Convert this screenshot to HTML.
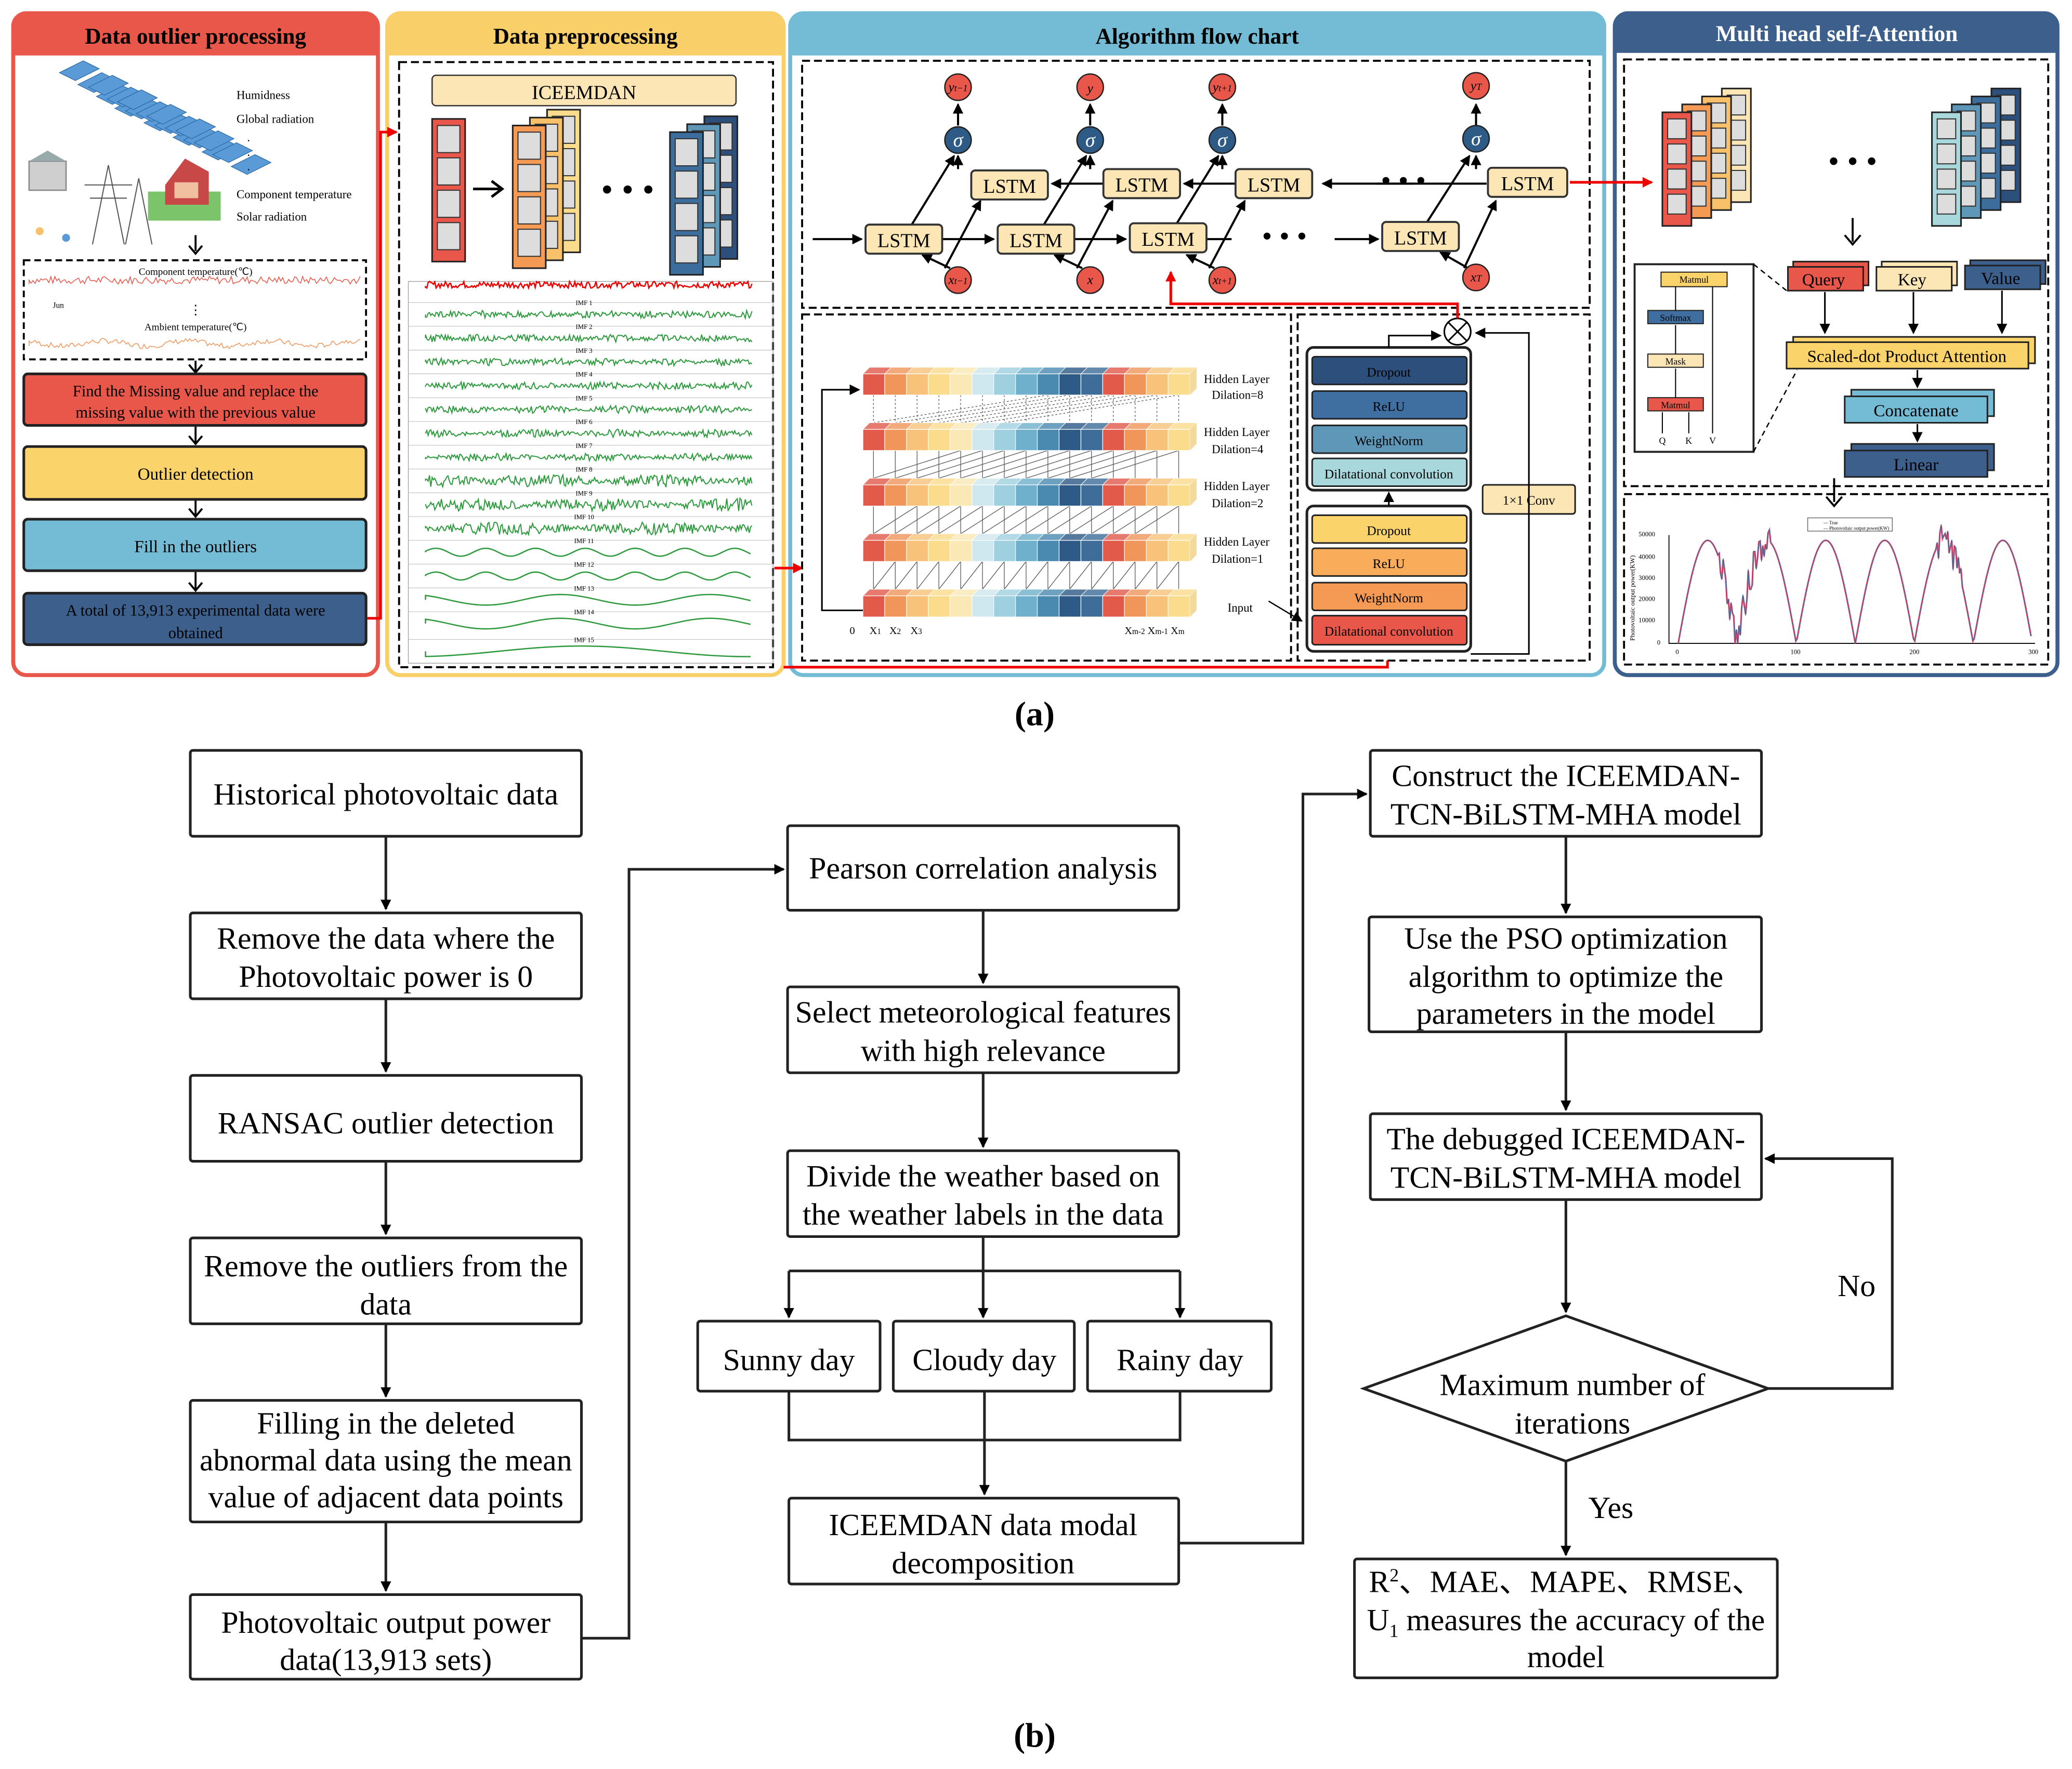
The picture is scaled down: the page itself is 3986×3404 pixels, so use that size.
<!DOCTYPE html>
<html><head><meta charset="utf-8"><style>
html,body{margin:0;padding:0;background:#fff}
svg{display:block}
text{font-family:"Liberation Serif",serif}
</style></head><body>
<svg id="s" xmlns="http://www.w3.org/2000/svg" width="3986" height="3404" viewBox="0 0 1568 1339" preserveAspectRatio="none">
<defs>
<marker id="ab" markerWidth="8" markerHeight="8" refX="7" refY="4" orient="auto" markerUnits="userSpaceOnUse"><path d="M0,0 L8,4 L0,8 z" fill="#000"/></marker>
<marker id="ar" markerWidth="8" markerHeight="8" refX="7" refY="4" orient="auto" markerUnits="userSpaceOnUse"><path d="M0,0 L8,4 L0,8 z" fill="#e00"/></marker>
</defs>
<rect width="1568" height="1339" fill="#fff"/>

<!-- ===== Panels ===== -->
<rect x="10" y="10" width="276" height="501" rx="10" fill="#fff" stroke="#e8574a" stroke-width="3"/>
<path d="M10,42 V20 a10,10 0 0 1 10,-10 H276 a10,10 0 0 1 10,10 V42 z" fill="#e8574a"/>
<text x="148" y="33" font-size="17" font-weight="bold" text-anchor="middle">Data outlier processing</text>

<rect x="293" y="10" width="300" height="501" rx="10" fill="#fff" stroke="#f9cf6a" stroke-width="3"/>
<path d="M293,42 V20 a10,10 0 0 1 10,-10 H583 a10,10 0 0 1 10,10 V42 z" fill="#f9cf6a"/>
<text x="443" y="33" font-size="17" font-weight="bold" text-anchor="middle">Data preprocessing</text>

<rect x="598" y="10" width="616" height="501" rx="10" fill="#fff" stroke="#74bcd6" stroke-width="3"/>
<path d="M598,42 V20 a10,10 0 0 1 10,-10 H1204 a10,10 0 0 1 10,10 V42 z" fill="#74bcd6"/>
<text x="906" y="33" font-size="17" font-weight="bold" text-anchor="middle">Algorithm flow chart</text>

<rect x="1222" y="10" width="335" height="501" rx="10" fill="#fff" stroke="#3c5f8c" stroke-width="3"/>
<path d="M1222,40 V20 a10,10 0 0 1 10,-10 H1547 a10,10 0 0 1 10,10 V40 z" fill="#3c5f8c"/>
<text x="1390" y="31" font-size="17" font-weight="bold" text-anchor="middle" fill="#fff">Multi head self-Attention</text>

<!-- ===== Panel 1 ===== -->
<g id="farm"></g>
<g font-size="9">
<text x="179" y="75">Humidness</text>
<text x="179" y="93">Global radiation</text>
<text x="187" y="107">.</text><text x="187" y="118">.</text><text x="187" y="129">.</text>
<text x="179" y="150">Component temperature</text>
<text x="179" y="167">Solar radiation</text>
</g>
<path d="M148,178 v12" stroke="#000" stroke-width="1.5"/><path d="M143,186 l5,6 l5,-6" fill="none" stroke="#000" stroke-width="1.5"/>
<rect x="18" y="197" width="259" height="75" fill="none" stroke="#000" stroke-dasharray="5,3" stroke-width="1.5"/>
<text x="148" y="208" font-size="7.5" text-anchor="middle">Component temperature(℃)</text>
<text x="148" y="250" font-size="7.5" text-anchor="middle">Ambient temperature(℃)</text>
<text x="148" y="238" font-size="10" text-anchor="middle">⋮</text>
<text x="40" y="233" font-size="6">Jun</text>
<path id="ct" d="" stroke="#e8574a" fill="none" stroke-width="0.6"/>
<path id="at" d="" stroke="#f0965a" fill="none" stroke-width="0.6"/>
<path d="M148,273 v8 M143,276 l5,6 l5,-6" fill="none" stroke="#000" stroke-width="1.5"/>
<rect x="18" y="283" width="259" height="39" rx="3" fill="#e8574a" stroke="#222" stroke-width="2"/>
<text x="148" y="300" font-size="12" text-anchor="middle">Find the Missing value and replace the</text>
<text x="148" y="316" font-size="12" text-anchor="middle">missing value with the previous value</text>
<path d="M148,323 v12 M143,330 l5,6 l5,-6" fill="none" stroke="#000" stroke-width="1.5"/>
<rect x="18" y="338" width="259" height="40" rx="3" fill="#fbd36b" stroke="#222" stroke-width="2"/>
<text x="148" y="363" font-size="13" text-anchor="middle">Outlier detection</text>
<path d="M148,379 v11 M143,385 l5,6 l5,-6" fill="none" stroke="#000" stroke-width="1.5"/>
<rect x="18" y="393" width="259" height="39" rx="3" fill="#74bcd6" stroke="#222" stroke-width="2"/>
<text x="148" y="418" font-size="13" text-anchor="middle">Fill in the outliers</text>
<path d="M148,433 v13 M143,441 l5,6 l5,-6" fill="none" stroke="#000" stroke-width="1.5"/>
<rect x="18" y="449" width="259" height="39" rx="3" fill="#3c5f8c" stroke="#222" stroke-width="2"/>
<text x="148" y="466" font-size="12" text-anchor="middle">A total of 13,913 experimental data were</text>
<text x="148" y="483" font-size="12" text-anchor="middle">obtained</text>
<path d="M278,468 H288 V100 H300" fill="none" stroke="#e00" stroke-width="2" marker-end="url(#ar)"/>

<!-- ===== Panel 2 ===== -->
<rect x="302" y="47" width="283" height="458" fill="none" stroke="#000" stroke-dasharray="6,3" stroke-width="1.5"/>
<rect x="327" y="57" width="230" height="23" rx="3" fill="#fde6b5" stroke="#333"/>
<text x="442" y="75" font-size="15" text-anchor="middle">ICEEMDAN</text>
<g id="stacks"></g>
<path d="M358,143 h20 M372,137 l8,6 l-8,6" fill="none" stroke="#000" stroke-width="2"/>
<text x="475" y="152" font-size="26" text-anchor="middle">• • •</text>
<g id="imf"></g>
<g font-size="5" text-anchor="middle">
<text x="442" y="231">IMF 1</text><text x="442" y="249">IMF 2</text><text x="442" y="267">IMF 3</text><text x="442" y="285">IMF 4</text><text x="442" y="303">IMF 5</text><text x="442" y="321">IMF 6</text><text x="442" y="339">IMF 7</text><text x="442" y="357">IMF 8</text><text x="442" y="375">IMF 9</text><text x="442" y="393">IMF 10</text><text x="442" y="411">IMF 11</text><text x="442" y="429">IMF 12</text><text x="442" y="447">IMF 13</text><text x="442" y="465">IMF 14</text><text x="442" y="486">IMF 15</text>
</g>
<path d="M586,430 H607" fill="none" stroke="#e00" stroke-width="2" marker-end="url(#ar)"/>

<!-- ===== Panel 3 top (BiLSTM) ===== -->
<rect x="607" y="46" width="596" height="187" fill="none" stroke="#000" stroke-dasharray="6,3" stroke-width="1.5"/>
<g id="lstm" stroke="#000" stroke-width="1.6" fill="none">
<path d="M615,181 H652" marker-end="url(#ab)"/>
<path d="M713,181 H752" marker-end="url(#ab)"/>
<path d="M813,181 H852" marker-end="url(#ab)"/>
<path d="M913,181 H932"/><path d="M1010,181 H1043" marker-end="url(#ab)"/>
<path d="M1125,139 H1001" marker-end="url(#ab)"/>
<path d="M935,139 H896" marker-end="url(#ab)"/>
<path d="M835,139 H796" marker-end="url(#ab)"/>
<path d="M1042,139 H1070"/>
<path d="M725,128 V118" marker-end="url(#ab)"/><path d="M825,128 V118" marker-end="url(#ab)"/><path d="M925,128 V118" marker-end="url(#ab)"/><path d="M1117,128 V118" marker-end="url(#ab)"/>
<path d="M725,95 V79" marker-end="url(#ab)"/><path d="M825,95 V79" marker-end="url(#ab)"/><path d="M925,95 V79" marker-end="url(#ab)"/><path d="M1117,95 V79" marker-end="url(#ab)"/>
<path d="M690,170 L722,118" marker-end="url(#ab)"/><path d="M790,170 L822,118" marker-end="url(#ab)"/><path d="M890,170 L922,118" marker-end="url(#ab)"/><path d="M1080,168 L1112,118" marker-end="url(#ab)"/>
<path d="M715,203 L742,152" marker-end="url(#ab)"/><path d="M815,203 L842,152" marker-end="url(#ab)"/><path d="M915,203 L942,152" marker-end="url(#ab)"/><path d="M1108,203 L1132,152" marker-end="url(#ab)"/>
<path d="M719,203 L698,193" marker-end="url(#ab)"/><path d="M819,203 L798,193" marker-end="url(#ab)"/><path d="M919,203 L898,193" marker-end="url(#ab)"/><path d="M1111,203 L1090,191" marker-end="url(#ab)"/>
</g>
<text x="1062" y="144" font-size="22" text-anchor="middle">• • •</text>
<text x="972" y="186" font-size="22" text-anchor="middle">• • •</text>
<g font-size="15" text-anchor="middle" stroke="#333" stroke-width="1.5">
<rect x="655" y="170" width="58" height="22" rx="3" fill="#fde6b5"/><rect x="755" y="170" width="58" height="22" rx="3" fill="#fde6b5"/><rect x="855" y="169" width="58" height="22" rx="3" fill="#fde6b5"/><rect x="1046" y="168" width="58" height="22" rx="3" fill="#fde6b5"/>
<rect x="735" y="129" width="58" height="22" rx="3" fill="#fde6b5"/><rect x="835" y="128" width="58" height="22" rx="3" fill="#fde6b5"/><rect x="935" y="128" width="58" height="22" rx="3" fill="#fde6b5"/><rect x="1126" y="127" width="60" height="22" rx="3" fill="#fde6b5"/>
</g>
<g font-size="15" text-anchor="middle">
<text x="684" y="187">LSTM</text><text x="784" y="187">LSTM</text><text x="884" y="186">LSTM</text><text x="1075" y="185">LSTM</text>
<text x="764" y="146">LSTM</text><text x="864" y="145">LSTM</text><text x="964" y="145">LSTM</text><text x="1156" y="144">LSTM</text>
</g>
<g stroke="#222" stroke-width="1">
<circle cx="725" cy="66" r="10" fill="#e8574a"/><circle cx="825" cy="66" r="10" fill="#e8574a"/><circle cx="925" cy="66" r="10" fill="#e8574a"/><circle cx="1117" cy="65" r="10" fill="#e8574a"/>
<circle cx="725" cy="106" r="10" fill="#2e5a86"/><circle cx="825" cy="106" r="10" fill="#2e5a86"/><circle cx="925" cy="106" r="10" fill="#2e5a86"/><circle cx="1117" cy="105" r="10" fill="#2e5a86"/>
<circle cx="725" cy="212" r="10" fill="#e8574a"/><circle cx="825" cy="212" r="10" fill="#e8574a"/><circle cx="925" cy="212" r="10" fill="#e8574a"/><circle cx="1117" cy="210" r="10" fill="#e8574a"/>
</g>
<g font-size="10" text-anchor="middle" font-style="italic">
<text x="725" y="69">y<tspan font-size="7">t−1</tspan></text><text x="825" y="70">y</text><text x="925" y="69">y<tspan font-size="7">t+1</tspan></text><text x="1117" y="68">y<tspan font-size="7">T</tspan></text>
<text x="725" y="215">x<tspan font-size="7">t−1</tspan></text><text x="825" y="215">x</text><text x="925" y="215">x<tspan font-size="7">t+1</tspan></text><text x="1117" y="213">x<tspan font-size="7">T</tspan></text>
</g>
<g font-size="15" text-anchor="middle" fill="#fff" font-style="italic"><text x="725" y="111">σ</text><text x="825" y="111">σ</text><text x="925" y="111">σ</text><text x="1117" y="110">σ</text></g>
<path d="M1188,138 H1250" fill="none" stroke="#e00" stroke-width="2" marker-end="url(#ar)"/>

<!-- ===== Panel 3 bottom left (TCN) ===== -->
<rect x="607" y="238" width="370" height="262" fill="none" stroke="#000" stroke-dasharray="6,3" stroke-width="1.5"/>
<g id="tcnlines" stroke="#555" stroke-width="0.5" fill="none"></g>
<g id="tcn"></g>
<path d="M653,462 H622 V295 H650" fill="none" stroke="#000" stroke-width="1.2" marker-end="url(#ab)"/>
<g font-size="9">
<text x="911" y="290">Hidden Layer</text><text x="917" y="302">Dilation=8</text>
<text x="911" y="330">Hidden Layer</text><text x="917" y="343">Dilation=4</text>
<text x="911" y="371">Hidden Layer</text><text x="917" y="384">Dilation=2</text>
<text x="911" y="413">Hidden Layer</text><text x="917" y="426">Dilation=1</text>
<text x="929" y="463">Input</text>
<text x="643" y="480" font-size="8">0</text><text x="658" y="480" font-size="8">X<tspan font-size="6">1</tspan></text><text x="673" y="480" font-size="8">X<tspan font-size="6">2</tspan></text><text x="689" y="480" font-size="8">X<tspan font-size="6">3</tspan></text>
<text x="851" y="480" font-size="8">X<tspan font-size="6">m-2</tspan> X<tspan font-size="6">m-1</tspan> X<tspan font-size="6">m</tspan></text>
</g>
<path d="M960,455 L985,470" stroke="#000" fill="none" marker-end="url(#ab)"/>

<!-- ===== Panel 3 bottom right ===== -->
<rect x="982" y="238" width="221" height="262" fill="none" stroke="#000" stroke-dasharray="6,3" stroke-width="1.5"/>
<rect x="989" y="263" width="124" height="108" rx="5" fill="none" stroke="#222" stroke-width="2"/>
<rect x="989" y="383" width="124" height="110" rx="5" fill="none" stroke="#222" stroke-width="2"/>
<g stroke="#222" stroke-width="1.2">
<rect x="993" y="270" width="117" height="21" rx="2" fill="#2c4f7c"/>
<rect x="993" y="296" width="117" height="21" rx="2" fill="#3f6fa0"/>
<rect x="993" y="322" width="117" height="21" rx="2" fill="#5f97b8"/>
<rect x="993" y="347" width="117" height="21" rx="2" fill="#a8d8dc"/>
<rect x="993" y="390" width="117" height="21" rx="2" fill="#fbd36b"/>
<rect x="993" y="415" width="117" height="21" rx="2" fill="#f9ad5a"/>
<rect x="993" y="441" width="117" height="21" rx="2" fill="#f59a55"/>
<rect x="993" y="466" width="117" height="22" rx="2" fill="#e8574a"/>
<rect x="1122" y="367" width="70" height="22" rx="2" fill="#fde6b5"/>
</g>
<g font-size="10" text-anchor="middle">
<text x="1051" y="285">Dropout</text><text x="1051" y="311">ReLU</text><text x="1051" y="337">WeightNorm</text><text x="1051" y="362">Dilatational convolution</text>
<text x="1051" y="405">Dropout</text><text x="1051" y="430">ReLU</text><text x="1051" y="456">WeightNorm</text><text x="1051" y="481">Dilatational convolution</text>
<text x="1157" y="382">1×1 Conv</text>
</g>
<g stroke="#000" stroke-width="1.2" fill="none">
<path d="M1051,263 V254 H1090" marker-end="url(#ab)"/>
<path d="M1051,383 V373" marker-end="url(#ab)"/>
<path d="M1113,495 H1157 V252 H1117" marker-end="url(#ab)"/>
<circle cx="1103" cy="251" r="10" fill="#fff"/><path d="M1096,244 L1110,258 M1110,244 L1096,258"/>
</g>
<path d="M1050,500 V505 H593 M1103,241 V230 H886 V206" fill="none" stroke="#e00" stroke-width="2" marker-end="url(#ar)"/>

<!-- ===== Panel 4 ===== -->
<rect x="1229" y="45" width="321" height="323" fill="none" stroke="#000" stroke-dasharray="6,3" stroke-width="1.5"/>
<rect x="1229" y="374" width="321" height="129" fill="none" stroke="#000" stroke-dasharray="6,3" stroke-width="1.5"/>
<g id="mstacks"></g>
<text x="1402" y="130" font-size="24" text-anchor="middle">• • •</text>
<path d="M1402,165 v18 M1396,178 l6,7 l6,-7" fill="none" stroke="#000" stroke-width="1.5"/>
<rect x="1237" y="200" width="90" height="142" fill="#fff" stroke="#222" stroke-width="1.5"/>
<path d="M1327,200 L1352,220 M1327,342 L1360,280" stroke="#000" stroke-dasharray="4,3" fill="none"/>
<g stroke="#222" stroke-width="0.8">
<rect x="1257" y="206" width="50" height="11" fill="#fbd36b"/><rect x="1247" y="235" width="42" height="10" fill="#3f6fa0"/>
<rect x="1247" y="268" width="42" height="10" fill="#fde6b5"/><rect x="1247" y="301" width="42" height="10" fill="#e8574a"/>
</g>
<g font-size="7" text-anchor="middle"><text x="1282" y="214">Matmul</text><text x="1268" y="243">Softmax</text><text x="1268" y="276">Mask</text><text x="1268" y="309">Matmul</text>
<text x="1258" y="336">Q</text><text x="1278" y="336">K</text><text x="1296" y="336">V</text></g>
<g stroke="#000" stroke-width="0.8" fill="none"><path d="M1268,301 V279 M1268,268 V246 M1268,235 V217 M1258,328 V312 M1278,328 V312 M1296,328 V217 H1296"/></g>
<g stroke="#222" stroke-width="1.2">
<rect x="1357" y="198" width="57" height="18" fill="#e8574a"/><rect x="1353" y="202" width="57" height="18" fill="#e8574a"/>
<rect x="1424" y="198" width="57" height="18" fill="#fde6b5"/><rect x="1420" y="202" width="57" height="18" fill="#fde6b5"/>
<rect x="1491" y="197" width="57" height="18" fill="#3c5f8c"/><rect x="1487" y="201" width="57" height="18" fill="#3c5f8c"/>
<rect x="1357" y="255" width="183" height="20" fill="#fbd36b"/><rect x="1352" y="259" width="183" height="20" fill="#fbd36b"/>
<rect x="1401" y="295" width="108" height="20" fill="#74bcd6"/><rect x="1396" y="300" width="108" height="20" fill="#74bcd6"/>
<rect x="1401" y="336" width="108" height="20" fill="#3c5f8c"/><rect x="1396" y="341" width="108" height="20" fill="#3c5f8c"/>
</g>
<g font-size="13" text-anchor="middle"><text x="1380" y="216">Query</text><text x="1447" y="216">Key</text><text x="1514" y="215">Value</text>
<text x="1443" y="274">Scaled-dot Product Attention</text><text x="1450" y="315">Concatenate</text><text x="1450" y="356">Linear</text></g>
<g stroke="#000" stroke-width="1.2" fill="none">
<path d="M1381,221 V252" marker-end="url(#ab)"/><path d="M1448,221 V252" marker-end="url(#ab)"/><path d="M1515,220 V252" marker-end="url(#ab)"/>
<path d="M1451,280 V293" marker-end="url(#ab)"/><path d="M1451,321 V334" marker-end="url(#ab)"/>
</g>
<path d="M1388,362 v18 M1382,376 l6,7 l6,-7" fill="none" stroke="#000" stroke-width="1.5"/>
<rect x="1368" y="392" width="64" height="10" fill="#fff" stroke="#555" stroke-width="0.5"/>
<text x="1380" y="397" font-size="3.5">— True</text><text x="1380" y="401" font-size="3.5">— Photovoltaic output power(KW)</text>
<path d="M1263,405 V487 H1540" stroke="#000" stroke-width="0.7" fill="none"/>
<path id="pv" d="" stroke="#e8577a" stroke-width="1.3" fill="none"/>
<path id="pv2" d="" stroke="#3c5f8c" stroke-width="0.5" fill="none"/>
<g font-size="5"><text x="1240" y="406">50000</text><text x="1240" y="423">40000</text><text x="1240" y="439">30000</text><text x="1240" y="455">20000</text><text x="1240" y="471">10000</text><text x="1254" y="488">0</text>
<text x="1268" y="495">0</text><text x="1355" y="495">100</text><text x="1445" y="495">200</text><text x="1535" y="495">300</text></g>
<text x="1237" y="485" font-size="5" transform="rotate(-90 1237 485)">Photovoltaic output power(KW)</text>

<text x="783" y="549" font-size="26" font-weight="bold" text-anchor="middle">(a)</text>

<!-- ===== Part (b) ===== -->
<g fill="#fff" stroke="#222" stroke-width="2">
<rect x="144" y="568" width="296" height="65" rx="2"/>
<rect x="144" y="691" width="296" height="65" rx="2"/>
<rect x="144" y="814" width="296" height="65" rx="2"/>
<rect x="144" y="937" width="296" height="65" rx="2"/>
<rect x="144" y="1060" width="296" height="92" rx="2"/>
<rect x="144" y="1207" width="296" height="64" rx="2"/>
<rect x="596" y="625" width="296" height="64" rx="2"/>
<rect x="596" y="747" width="296" height="65" rx="2"/>
<rect x="596" y="871" width="296" height="65" rx="2"/>
<rect x="528" y="1000" width="138" height="53" rx="2"/>
<rect x="676" y="1000" width="137" height="53" rx="2"/>
<rect x="823" y="1000" width="139" height="53" rx="2"/>
<rect x="597" y="1134" width="295" height="65" rx="2"/>
<rect x="1037" y="568" width="296" height="65" rx="2"/>
<rect x="1036" y="694" width="297" height="87" rx="2"/>
<rect x="1037" y="843" width="296" height="65" rx="2"/>
<polygon points="1185,996 1338,1051 1185,1106 1032,1051"/>
<rect x="1025" y="1180" width="320" height="90" rx="2"/>
</g>
<g font-size="23.5" text-anchor="middle">
<text x="292" y="609">Historical photovoltaic data</text>
<text x="292" y="718">Remove the data where the</text><text x="292" y="747">Photovoltaic power is 0</text>
<text x="292" y="858">RANSAC outlier detection</text>
<text x="292" y="966">Remove the outliers from the</text><text x="292" y="995">data</text>
<text x="292" y="1085">Filling in the deleted</text><text x="292" y="1113">abnormal data using the mean</text><text x="292" y="1141">value of adjacent data points</text>
<text x="292" y="1236">Photovoltaic output power</text><text x="292" y="1264">data(13,913 sets)</text>
<text x="744" y="665">Pearson correlation analysis</text>
<text x="744" y="774">Select meteorological features</text><text x="744" y="803">with high relevance</text>
<text x="744" y="898">Divide the weather based on</text><text x="744" y="927">the weather labels in the data</text>
<text x="597" y="1037">Sunny day</text><text x="745" y="1037">Cloudy day</text><text x="893" y="1037">Rainy day</text>
<text x="744" y="1162">ICEEMDAN data modal</text><text x="744" y="1191">decomposition</text>
<text x="1185" y="595">Construct the ICEEMDAN-</text><text x="1185" y="624">TCN-BiLSTM-MHA model</text>
<text x="1185" y="718">Use the PSO optimization</text><text x="1185" y="747">algorithm to optimize the</text><text x="1185" y="775">parameters in the model</text>
<text x="1185" y="870">The debugged ICEEMDAN-</text><text x="1185" y="899">TCN-BiLSTM-MHA model</text>
<text x="1190" y="1056">Maximum number of</text><text x="1190" y="1085">iterations</text>
<text x="1185" y="1205">R<tspan font-size="14" dy="-8">2</tspan><tspan dy="8">、MAE、MAPE、RMSE、</tspan></text>
<text x="1185" y="1234">U<tspan font-size="14" dy="5">1</tspan><tspan dy="-5"> measures the accuracy of the</tspan></text>
<text x="1185" y="1262">model</text>
<text x="1405" y="981">No</text><text x="1219" y="1149">Yes</text>
</g>
<g stroke="#222" stroke-width="2" fill="none">
<path d="M292,633 V688" marker-end="url(#ab)"/><path d="M292,756 V811" marker-end="url(#ab)"/><path d="M292,879 V934" marker-end="url(#ab)"/>
<path d="M292,1002 V1057" marker-end="url(#ab)"/><path d="M292,1152 V1204" marker-end="url(#ab)"/>
<path d="M440,1240 H476 V658 H593" marker-end="url(#ab)"/>
<path d="M744,689 V744" marker-end="url(#ab)"/><path d="M744,812 V868" marker-end="url(#ab)"/>
<path d="M744,936 V997" marker-end="url(#ab)"/>
<path d="M597,962 H893"/><path d="M597,962 V997" marker-end="url(#ab)"/><path d="M893,962 V997" marker-end="url(#ab)"/>
<path d="M597,1053 V1090 H893 V1053"/><path d="M745,1053 V1131" marker-end="url(#ab)"/>
<path d="M892,1168 H986 V601 H1034" marker-end="url(#ab)"/>
<path d="M1185,633 V691" marker-end="url(#ab)"/><path d="M1185,781 V840" marker-end="url(#ab)"/><path d="M1185,908 V993" marker-end="url(#ab)"/>
<path d="M1185,1106 V1177" marker-end="url(#ab)"/>
<path d="M1338,1051 H1432 V877 H1336" marker-end="url(#ab)"/>
</g>
<text x="783" y="1322" font-size="26" font-weight="bold" text-anchor="middle">(b)</text>
</svg>
<script>
var NS="http://www.w3.org/2000/svg";
function el(p,t,a){var e=document.createElementNS(NS,t);for(var k in a)e.setAttribute(k,a[k]);p.appendChild(e);return e;}
function rnd(s){return function(){s=(s*9301+49297)%233280;return s/233280;}}
var r=rnd(7);
// farm illustration
var fm=document.getElementById("farm");
for(var i=0;i<5;i++)for(var j=0;j<4;j++){var x0=45+i*22+j*14,y0=55+i*11-j*7+j*16;
el(fm,"polygon",{points:x0+","+y0+" "+(x0+18)+","+(y0-9)+" "+(x0+30)+","+(y0-3)+" "+(x0+12)+","+(y0+6),fill:"#5a9ad6",stroke:"#2d6aa8","stroke-width":0.5});}
el(fm,"rect",{x:22,y:122,width:28,height:22,fill:"#cfcfcf",stroke:"#888"});
el(fm,"polygon",{points:"22,122 36,114 50,122",fill:"#9aa"});
el(fm,"path",{d:"M70,185 L82,125 L94,185 M64,140 L100,140 M68,150 L96,150 M95,185 L105,135 L115,185",stroke:"#555",fill:"none","stroke-width":0.8});
el(fm,"rect",{x:112,y:145,width:55,height:22,fill:"#7cc46a"});
el(fm,"polygon",{points:"125,140 140,120 158,130 158,155 125,155",fill:"#c84848"});
el(fm,"rect",{x:132,y:138,width:18,height:12,fill:"#f0c0a0"});
el(fm,"circle",{cx:30,cy:175,r:3,fill:"#f9c06a"});el(fm,"circle",{cx:50,cy:180,r:3,fill:"#5a9ad6"});
// temp charts
var d="M22,215",d2="M22,262";for(var x=22;x<274;x+=1.5){d+=" L"+x+","+(215-r()*6);d2+=" L"+x+","+(262-r()*4-Math.sin(x/10)*2);}
document.getElementById("ct").setAttribute("d",d);document.getElementById("at").setAttribute("d",d2);
// stacks panel2
var st=document.getElementById("stacks");
function stack(g,x0,y0,n,col,w,h,dx){for(var i=n-1;i>=0;i--){var x=x0+i*dx,y=y0-i*6;el(g,"rect",{x:x,y:y,width:w,height:h,fill:col[i%col.length],stroke:"#222","stroke-width":1.2});for(var j=0;j<4;j++)el(g,"rect",{x:x+4,y:y+5+j*(h-10)/4,width:w-8,height:(h-10)/4-4,fill:"#ddd",stroke:"#333","stroke-width":0.8});}}
stack(st,327,90,1,["#e8574a"],25,108,0);
stack(st,388,95,3,["#f59a55","#f9c06a","#fbdc8c"],25,108,13);
stack(st,507,100,3,["#3c6d9c","#5f97b8","#2c4f7c"],25,108,13);
// imf
var im=document.getElementById("imf");
el(im,"rect",{x:309,y:213,width:276,height:289,fill:"none",stroke:"#999","stroke-width":0.5});
var p="M322,218";for(var x=322;x<570;x+=1)p+=" L"+x+","+(218-r()*5);el(im,"path",{d:p,stroke:"#e00",fill:"none","stroke-width":1});
for(var k=0;k<15;k++){var yc=238+k*18+(k==14?3:0);el(im,"line",{x1:309,x2:585,y1:yc-9,y2:yc-9,stroke:"#bbb","stroke-width":0.4});
var amp=k<7?3:(k<10?5:(k<12?3:4));var fr=k<10?1.5:(k<12?6:(k<14?18:40));var q="M322,"+yc;
for(var x=322;x<570;x+=k<10?1:2){var v=k<10?(r()-0.5)*2*amp*(0.4+0.6*Math.abs(Math.sin(x/(8+k*3)))):Math.sin(x/fr)*amp;q+=" L"+x+","+(yc+v);}
el(im,"path",{d:q,stroke:"#2e9a3e",fill:"none","stroke-width":k<10?0.8:1});}
// tcn
var cols=["#e25a4a","#f0965a","#f8c27a","#fbdc8c","#fbe9b5","#cfe7ee","#9fd0e0","#6fb0cc","#4a8ab0","#2d5a86","#3d6d98","#e25a4a","#f0965a","#f8c27a","#fbdc8c","#fbe9b5"];
var tg=document.getElementById("tcn"),tl=document.getElementById("tcnlines");
var rows=[283,325,367,409,451],dil=[8,4,2,1];
for(var ri=0;ri<5;ri++){var y=rows[ri];for(var c=0;c<15;c++){var x=653+c*16.5;
el(tg,"polygon",{points:(x)+","+(y)+" "+(x+5)+","+(y-5)+" "+(x+21.5)+","+(y-5)+" "+(x+16.5)+","+y,fill:cols[c],stroke:"#fff","stroke-width":0.4,opacity:0.8});
el(tg,"rect",{x:x,y:y,width:16.5,height:16,fill:cols[c],stroke:"#fff","stroke-width":0.5});}
el(tg,"polygon",{points:(653+15*16.5)+","+y+" "+(658+15*16.5)+","+(y-5)+" "+(658+15*16.5)+","+(y+11)+" "+(653+15*16.5)+","+(y+16),fill:"#f3d99a"});
if(ri<4){var dd=dil[ri];for(var c=0;c<15;c++){var xt=661+c*16.5;for(var t=0;t<2;t++){var cs=c-t*dd;if(cs<0)continue;el(tl,"line",{x1:xt,y1:y+16,x2:661+cs*16.5,y2:rows[ri+1]-5,"stroke-dasharray":ri==0?"1.5,1.5":"none"});}}}}
// matrices panel 4
var ms=document.getElementById("mstacks");
stack(ms,1258,85,4,["#e8574a","#f59a55","#f9c06a","#fde6b5"],22,86,15);
stack(ms,1462,85,4,["#a8d8dc","#5f97b8","#3c6d9c","#2c4f7c"],22,86,15);
// pv chart
var a="M1270,487",b="M1270,487";for(var x=1270;x<1538;x+=1){var ph=(x-1270)/268*6*Math.PI;var v=Math.abs(Math.sin(ph))*78;var n=(x>1300&&x<1340)||(x>1465&&x<1485)?(r()-0.5)*25:0;a+=" L"+x+","+(487-Math.max(0,v+n));b+=" L"+x+","+(487-Math.max(0,v+n*1.1));}
document.getElementById("pv").setAttribute("d",a);document.getElementById("pv2").setAttribute("d",b);
</script>
</body></html>
